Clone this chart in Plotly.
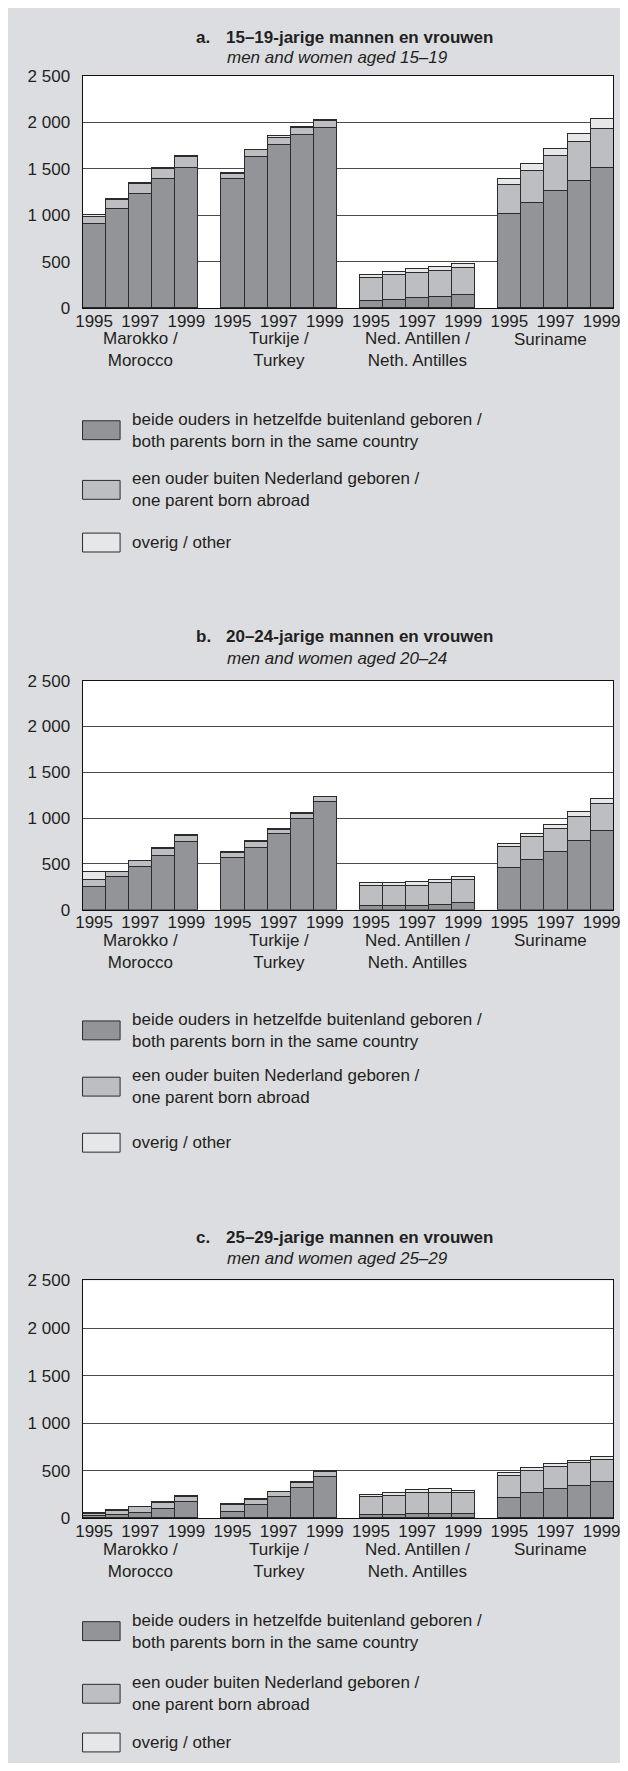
import plotly.graph_objects as go
from plotly.subplots import make_subplots

# categories
years = ['1995', '1996', '1997', '1998', '1999']
countries = ['Marokko /<br>Morocco', 'Turkije /<br>Turkey',
             'Ned. Antillen /<br>Neth. Antilles', 'Suriname']
series = ['beide ouders in hetzelfde buitenland geboren /<br>both parents born in the same country',
          'een ouder buiten Nederland geboren /<br>one parent born abroad',
          'overig / other']

y_tickvals = [0, 500, 1000, 1500, 2000, 2500]
y_ticktext = ['0', '500', '1 000', '1 500', '2 000', '2 500']

# values per country (Marokko, Turkije, Ned. Antillen, Suriname), 1995-1999
# a. 15-19
both_a = [910, 1070, 1230, 1390, 1510, 1390, 1625, 1760, 1860, 1935,
          80, 93, 110, 125, 142, 1010, 1130, 1260, 1375, 1510]
one_a = [70, 95, 105, 105, 115, 55, 75, 75, 80, 85,
         250, 266, 265, 280, 292, 320, 350, 380, 415, 420]
other_a = [20, 8, 15, 15, 15, 7, 8, 15, 10, 10,
           28, 28, 45, 42, 43, 60, 70, 75, 85, 105]

# b. 20-24
both_b = [252, 357, 472, 590, 743, 566, 681, 829, 990, 1175,
          47, 47, 47, 58, 76, 458, 548, 638, 757, 858]
one_b = [70, 55, 60, 75, 70, 58, 65, 45, 58, 58,
         216, 216, 218, 240, 250, 234, 249, 245, 256, 300]
other_b = [93, 5, 7, 8, 10, 7, 7, 8, 14, 4,
           36, 36, 35, 26, 32, 33, 32, 50, 54, 54]

# c. 25-29
both_c = [17, 28, 48, 93, 162, 66, 134, 217, 317, 424,
          28, 28, 41, 41, 41, 203, 259, 300, 331, 372]
one_c = [28, 48, 62, 66, 59, 65, 56, 52, 52, 59,
         189, 206, 221, 224, 218, 238, 238, 238, 248, 235]
other_c = [10, 3, 7, 7, 7, 10, 7, 7, 7, 7,
           28, 28, 28, 42, 27, 28, 31, 27, 21, 31]

# the page keeps its default 8px body margin (white strip top/left);
# the figure fills the rest of the 628 x 1771 window
PAGE_M = 8
W, H = 628 - PAGE_M, 1771 - 2 * PAGE_M
FONT = 'Liberation Sans, Arial, sans-serif'
TXT = '#231f20'
colors = ['#939497', '#bdbec1', '#e6e7e9']
EDGE = '#2b2b2b'

# measured positions were read a little too tight; spread them out slightly
KX, CX = 0.989, 3.75
KY, CY = 0.995, 3.4


def fx(p):
    # page pixel -> paper fraction
    return ((p - CX) / KX - PAGE_M) / W


def fy(p):
    return 1 - ((p - CY) / KY - PAGE_M) / H


# x position of each bar: 4 groups of 5 with a one-bar gap
xpos = [g * 6 + i for g in range(len(countries)) for i in range(len(years))]
xticks = [g * 6 + i for g in range(len(countries)) for i in (0, 2, 4)]
xticktext = [years[i] for g in range(len(countries)) for i in (0, 2, 4)]

# (letter, title, subtitle, data, plot top px, zero px, title rows px, legend swatch centres px)
panels = [
    ('a.', '15–19-jarige mannen en vrouwen', 'men and women aged 15–19',
     (both_a, one_a, other_a), 70.7, 304.3, (31.7, 51.7), (427, 487, 540)),
    ('b.', '20–24-jarige mannen en vrouwen', 'men and women aged 20–24',
     (both_b, one_b, other_b), 679, 909.3, (635, 656.7), (1030.7, 1087.3, 1143.7)),
    ('c.', '25–29-jarige mannen en vrouwen', 'men and women aged 25–29',
     (both_c, one_c, other_c), 1282.3, 1521.5, (1239, 1260), (1635, 1698, 1747)),
]

fig = make_subplots(rows=3, cols=1)

shapes = []
annotations = []

for r, (letter, title, sub, data, top, zero, tpos, lpos) in enumerate(panels, start=1):
    for k, vals in enumerate(data):
        fig.add_trace(go.Bar(x=xpos, y=vals, width=1, name=series[k], showlegend=False,
                             hoverinfo='skip',
                             marker=dict(color=colors[k], line=dict(color=EDGE, width=1))),
                      row=r, col=1)
    xa = 'xaxis' if r == 1 else f'xaxis{r}'
    ya = 'yaxis' if r == 1 else f'yaxis{r}'
    fig.layout[xa].update(domain=[fx(80), (620 - PAGE_M) / W], range=[-0.5, 22.5],
                          tickvals=xticks, ticktext=xticktext, ticks='',
                          showgrid=False, zeroline=False, showline=True, mirror=True,
                          linecolor='#111', linewidth=1, ticklabelstandoff=-3,
                          tickfont=dict(family=FONT, size=17, color=TXT))
    fig.layout[ya].update(domain=[fy(zero), fy(top)], range=[0, 2500],
                          tickvals=y_tickvals, ticktext=y_ticktext, ticks='',
                          showgrid=True, gridcolor='#4a4a4a', gridwidth=1, zeroline=False,
                          showline=True, mirror=True, linecolor='#111', linewidth=1,
                          ticklabelstandoff=8,
                          tickfont=dict(family=FONT, size=17, color=TXT))

    # titles
    annotations.append(dict(text=f'<b>{letter}</b>', x=fx(193), y=fy(tpos[0]), xanchor='left',
                            yanchor='middle', font=dict(size=17)))
    annotations.append(dict(text=f'<b>{title}</b>', x=fx(223), y=fy(tpos[0]), xanchor='left',
                            yanchor='middle', font=dict(size=17)))
    annotations.append(dict(text=f'<i>{sub}</i>', x=fx(224), y=fy(tpos[1]), xanchor='left',
                            yanchor='middle', font=dict(size=17)))

    # country labels under each group
    xr = 'x' if r == 1 else f'x{r}'
    for g, name in enumerate(countries):
        two = '<br>' in name
        annotations.append(dict(text=name, xref=xr, x=g * 6 + 2 - (0.2 if not two else 0),
                                y=fy(zero + (42 if two else 31)), xanchor='center',
                                yanchor='middle', font=dict(size=17)))

    # legend drawn as swatches + text
    for k, cy in enumerate(lpos):
        shapes.append(dict(type='rect', xref='paper', yref='paper', x0=fx(80), x1=fx(118),
                           y0=fy(cy + 9.5), y1=fy(cy - 9.5), fillcolor=colors[k],
                           line=dict(color=EDGE, width=1)))
        annotations.append(dict(text=series[k], x=fx(128), y=fy(cy), xanchor='left',
                                yanchor='middle', align='left', font=dict(size=17)))

for a in annotations:
    a.setdefault('xref', 'paper')
    a['yref'] = 'paper'
    a['showarrow'] = False
    a['font'].update(family=FONT, color=TXT)

fig.update_layout(width=W, height=H, autosize=False, barmode='stack', bargap=0,
                  margin=dict(l=0, r=0, t=0, b=0),
                  paper_bgcolor='#dcdde0', plot_bgcolor='white',
                  font=dict(family=FONT, color=TXT),
                  shapes=shapes, annotations=annotations, showlegend=False)

fig.write_html('out.html', config={'displayModeBar': False})
